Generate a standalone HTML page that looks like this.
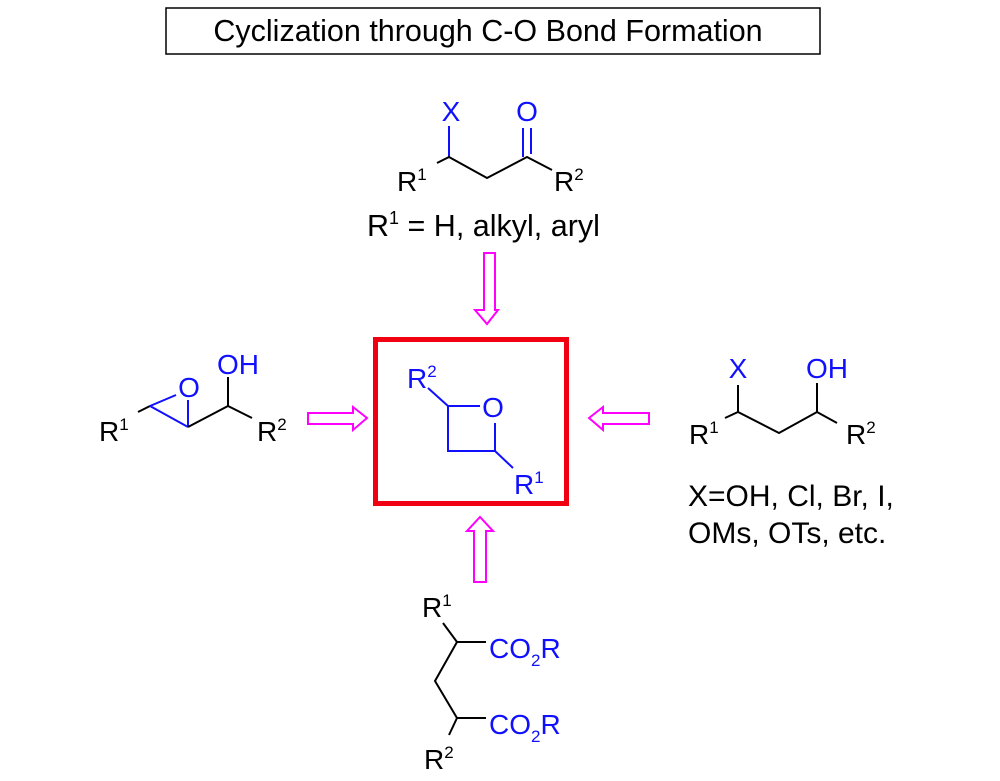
<!DOCTYPE html>
<html><head><meta charset="utf-8"><style>
html,body{margin:0;padding:0;background:#fff;}
svg{display:block;font-family:"Liberation Sans",Arial,sans-serif;}
.b{fill:#1010ff}.k{fill:#000}
</style></head><body>
<svg width="1000" height="781" viewBox="0 0 1000 781">
<rect x="166" y="8" width="654" height="46" fill="none" stroke="#000" stroke-width="1.5"/>
<text x="488" y="41" font-size="30.5" text-anchor="middle">Cyclization through C-O Bond Formation</text>

<!-- top molecule -->
<g stroke-width="2" fill="none">
<line x1="449" y1="126" x2="449" y2="157" stroke="#1010ff"/>
<polyline points="437,163 449,157 487,178 527,157 552,170" stroke="#000"/>
<line x1="523" y1="128" x2="523" y2="157" stroke="#1010ff"/>
<line x1="531" y1="128" x2="531" y2="154" stroke="#1010ff"/>
</g>
<text x="451" y="121" font-size="28" text-anchor="middle" class="b">X</text>
<text x="527" y="121" font-size="28" text-anchor="middle" class="b">O</text>
<text x="397" y="191" font-size="28">R<tspan font-size="17" dy="-11">1</tspan></text>
<text x="554" y="191" font-size="28">R<tspan font-size="17" dy="-11">2</tspan></text>
<text x="367" y="236" font-size="30.5">R<tspan font-size="18" dy="-12">1</tspan><tspan dy="12"> = H, alkyl, aryl</tspan></text>

<!-- arrows -->
<g fill="none" stroke="#ff00ff" stroke-width="2">
<polygon points="484,253 495,253 495,310 498,310 487,324 475,310 484,310"/>
<polygon points="308,413 353,413 353,407 367,418 353,430 353,424 308,424"/>
<polygon points="649,413 603,413 603,407 589,418 603,430 603,424 649,424"/>
<polygon points="474,582 486,582 486,531 493,531 480,517 467,531 474,531"/>
</g>

<!-- left molecule -->
<g stroke-width="2" fill="none">
<line x1="138" y1="412" x2="150" y2="406" stroke="#000"/>
<line x1="150" y1="406" x2="176" y2="395" stroke="#1010ff"/>
<line x1="150" y1="406" x2="188" y2="427" stroke="#1010ff"/>
<line x1="188" y1="427" x2="188" y2="400" stroke="#1010ff"/>
<polyline points="188,427 228,406 252,418" stroke="#000"/>
<line x1="228" y1="406" x2="228" y2="377" stroke="#000"/>
</g>
<text x="189" y="397" font-size="28" text-anchor="middle" class="b">O</text>
<text x="217" y="374" font-size="28" class="b">OH</text>
<text x="99" y="441" font-size="28">R<tspan font-size="17" dy="-11">1</tspan></text>
<text x="257" y="441" font-size="28">R<tspan font-size="17" dy="-11">2</tspan></text>

<!-- center box -->
<rect x="375.5" y="339.5" width="191" height="164" fill="none" stroke="#f00010" stroke-width="5"/>
<g stroke="#1010ff" stroke-width="2" fill="none">
<line x1="428" y1="388" x2="448" y2="406"/>
<line x1="448" y1="406" x2="480" y2="406"/>
<polyline points="448,406 448,451 495,451 495,423"/>
<line x1="495" y1="451" x2="513" y2="468"/>
</g>
<text x="493" y="417" font-size="28" text-anchor="middle" class="b">O</text>
<text x="407" y="388" font-size="28" class="b">R<tspan font-size="17" dy="-11">2</tspan></text>
<text x="514" y="494" font-size="28" class="b">R<tspan font-size="17" dy="-11">1</tspan></text>

<!-- right molecule -->
<g stroke-width="2" fill="none">
<line x1="738" y1="385" x2="738" y2="412" stroke="#000"/>
<polyline points="725,418 738,412 779,433 817,412 837,423" stroke="#000"/>
<line x1="817" y1="412" x2="817" y2="383" stroke="#000"/>
</g>
<text x="738" y="378" font-size="28" text-anchor="middle" class="b">X</text>
<text x="806" y="378" font-size="28" class="b">OH</text>
<text x="689" y="444" font-size="28">R<tspan font-size="17" dy="-11">1</tspan></text>
<text x="846" y="444" font-size="28">R<tspan font-size="17" dy="-11">2</tspan></text>
<text x="688" y="506" font-size="30">X=OH, Cl, Br, I,</text>
<text x="688" y="543" font-size="30">OMs, OTs, etc.</text>

<!-- bottom molecule -->
<g stroke="#000" stroke-width="2" fill="none">
<line x1="443" y1="623" x2="457" y2="642"/>
<line x1="457" y1="642" x2="486" y2="642"/>
<polyline points="457,642 435,681 457,718"/>
<line x1="457" y1="718" x2="486" y2="718"/>
<line x1="457" y1="718" x2="449" y2="735"/>
</g>
<text x="422" y="617" font-size="28">R<tspan font-size="17" dy="-11">1</tspan></text>
<text x="489" y="658" font-size="28" class="b">CO<tspan font-size="17" dy="8">2</tspan><tspan dy="-8">R</tspan></text>
<text x="489" y="734" font-size="28" class="b">CO<tspan font-size="17" dy="8">2</tspan><tspan dy="-8">R</tspan></text>
<text x="424" y="769" font-size="28">R<tspan font-size="17" dy="-11">2</tspan></text>
</svg>
</body></html>
